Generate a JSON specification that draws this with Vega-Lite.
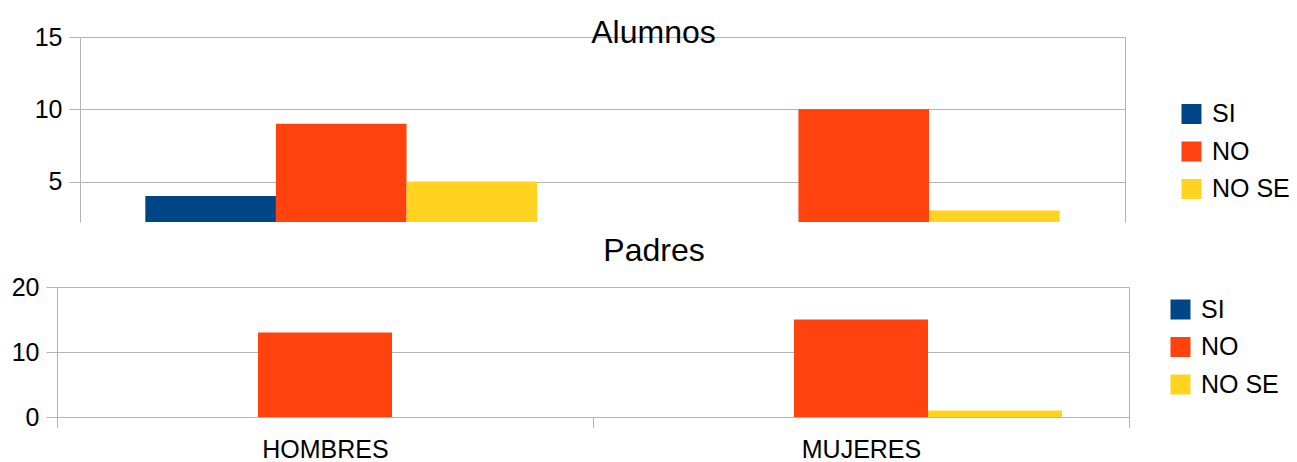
{
  "$schema": "https://vega.github.io/schema/vega-lite/v6.json",
  "background": "white",
  "padding": {"left": 11, "top": 17, "right": 0, "bottom": 0},
  "datasets": {
    "alumnos": [
      {"sexo": "HOMBRES", "respuesta": "SI", "valor": 4},
      {"sexo": "HOMBRES", "respuesta": "NO", "valor": 9},
      {"sexo": "HOMBRES", "respuesta": "NO SE", "valor": 5},
      {"sexo": "MUJERES", "respuesta": "SI", "valor": 0},
      {"sexo": "MUJERES", "respuesta": "NO", "valor": 10},
      {"sexo": "MUJERES", "respuesta": "NO SE", "valor": 3}
    ],
    "padres": [
      {"sexo": "HOMBRES", "respuesta": "SI", "valor": 0},
      {"sexo": "HOMBRES", "respuesta": "NO", "valor": 13},
      {"sexo": "HOMBRES", "respuesta": "NO SE", "valor": 0},
      {"sexo": "MUJERES", "respuesta": "SI", "valor": 0},
      {"sexo": "MUJERES", "respuesta": "NO", "valor": 15},
      {"sexo": "MUJERES", "respuesta": "NO SE", "valor": 1}
    ]
  },
  "config": {
    "font": "Liberation Sans",
    "view": {"stroke": null},
    "axis": {
      "labelFont": "Liberation Sans",
      "labelFontSize": 25,
      "labelColor": "#000000",
      "domainColor": "#b3b3b3",
      "tickColor": "#b3b3b3",
      "gridColor": "#b3b3b3",
      "domainWidth": 1,
      "tickWidth": 1,
      "gridWidth": 1
    },
    "legend": {
      "labelFont": "Liberation Sans",
      "labelFontSize": 25,
      "labelColor": "#000000",
      "symbolType": "square",
      "symbolSize": 400,
      "symbolStrokeWidth": 0,
      "labelOffset": 8,
      "rowPadding": 11.5,
      "padding": 0,
      "title": null
    },
    "title": {"font": "Liberation Sans", "fontSize": 32, "fontWeight": "normal", "color": "#000000"}
  },
  "resolve": {
    "scale": {"x": "independent", "xOffset": "independent", "y": "independent", "color": "independent"},
    "legend": {"color": "independent"}
  },
  "vconcat": [
    {
      "data": {"name": "alumnos"},
      "title": {"text": "Alumnos", "frame": "group", "anchor": "middle", "dx": 62.5, "baseline": "alphabetic", "offset": -50},
      "width": 1068,
      "height": 185,
      "layer": [
        {
          "mark": {"type": "bar", "clip": true},
          "encoding": {
            "x": {"field": "sexo", "type": "nominal", "sort": ["HOMBRES", "MUJERES"], "scale": {"range": [23, 1068], "paddingInner": 0, "paddingOuter": 0}, "axis": null},
            "xOffset": {"field": "respuesta", "type": "nominal", "sort": ["SI", "NO", "NO SE"], "scale": {"paddingInner": 0, "paddingOuter": 0.5}},
            "y": {"field": "valor", "type": "quantitative", "scale": {"domain": [2.2, 15], "nice": false, "zero": false},
                  "axis": {"values": [5, 10, 15], "offset": -23, "tickSize": 11, "labelPadding": 7, "grid": true, "title": null}},
            "color": {"field": "respuesta", "type": "nominal", "scale": {"domain": ["SI", "NO", "NO SE"], "range": ["#004586", "#ff420e", "#ffd320"]},
                      "legend": {"orient": "none", "legendX": 1122, "legendY": 64.5}}
          }
        },
        {
          "mark": {"type": "bar", "clip": true, "opacity": 0},
          "encoding": {
            "x": {"field": "sexo", "type": "nominal", "sort": ["HOMBRES", "MUJERES"], "axis": null},
            "xOffset": {"field": "respuesta", "type": "nominal", "sort": ["SI", "NO", "NO SE"]},
            "y": {"field": "valor", "type": "quantitative",
                  "axis": {"orient": "right", "labels": false, "ticks": false, "grid": false, "domain": true, "title": null, "minExtent": 0}}
          }
        }
      ],
      "resolve": {"axis": {"y": "independent"}}
    },
    {
      "data": {"name": "padres"},
      "title": {"text": "Padres", "frame": "group", "anchor": "middle", "dx": 61, "baseline": "alphabetic", "offset": -18},
      "width": 1072,
      "height": 130,
      "layer": [
        {
          "mark": {"type": "bar"},
          "encoding": {
            "x": {"field": "sexo", "type": "nominal", "sort": ["HOMBRES", "MUJERES"], "scale": {"paddingInner": 0, "paddingOuter": 0},
                  "axis": {"tickBand": "extent", "tickSize": 10, "labelPadding": 10, "labelAngle": 0, "grid": false, "title": null}},
            "xOffset": {"field": "respuesta", "type": "nominal", "sort": ["SI", "NO", "NO SE"], "scale": {"paddingInner": 0, "paddingOuter": 0.5}},
            "y": {"field": "valor", "type": "quantitative", "scale": {"domain": [0, 20], "nice": false},
                  "axis": {"values": [0, 10, 20], "tickSize": 11, "labelPadding": 7, "grid": true, "title": null}},
            "color": {"field": "respuesta", "type": "nominal", "scale": {"domain": ["SI", "NO", "NO SE"], "range": ["#004586", "#ff420e", "#ffd320"]},
                      "legend": {"orient": "none", "legendX": 1111, "legendY": 10}}
          }
        },
        {
          "mark": {"type": "bar", "opacity": 0},
          "encoding": {
            "x": {"field": "sexo", "type": "nominal", "sort": ["HOMBRES", "MUJERES"],
                  "axis": {"tickBand": "extent", "tickSize": 10, "labelPadding": 10, "labelAngle": 0, "grid": false, "title": null}},
            "xOffset": {"field": "respuesta", "type": "nominal", "sort": ["SI", "NO", "NO SE"]},
            "y": {"field": "valor", "type": "quantitative",
                  "axis": {"orient": "right", "labels": false, "ticks": false, "grid": false, "domain": true, "title": null, "minExtent": 0}}
          }
        }
      ],
      "resolve": {"axis": {"y": "independent"}}
    }
  ],
  "spacing": 13
}
